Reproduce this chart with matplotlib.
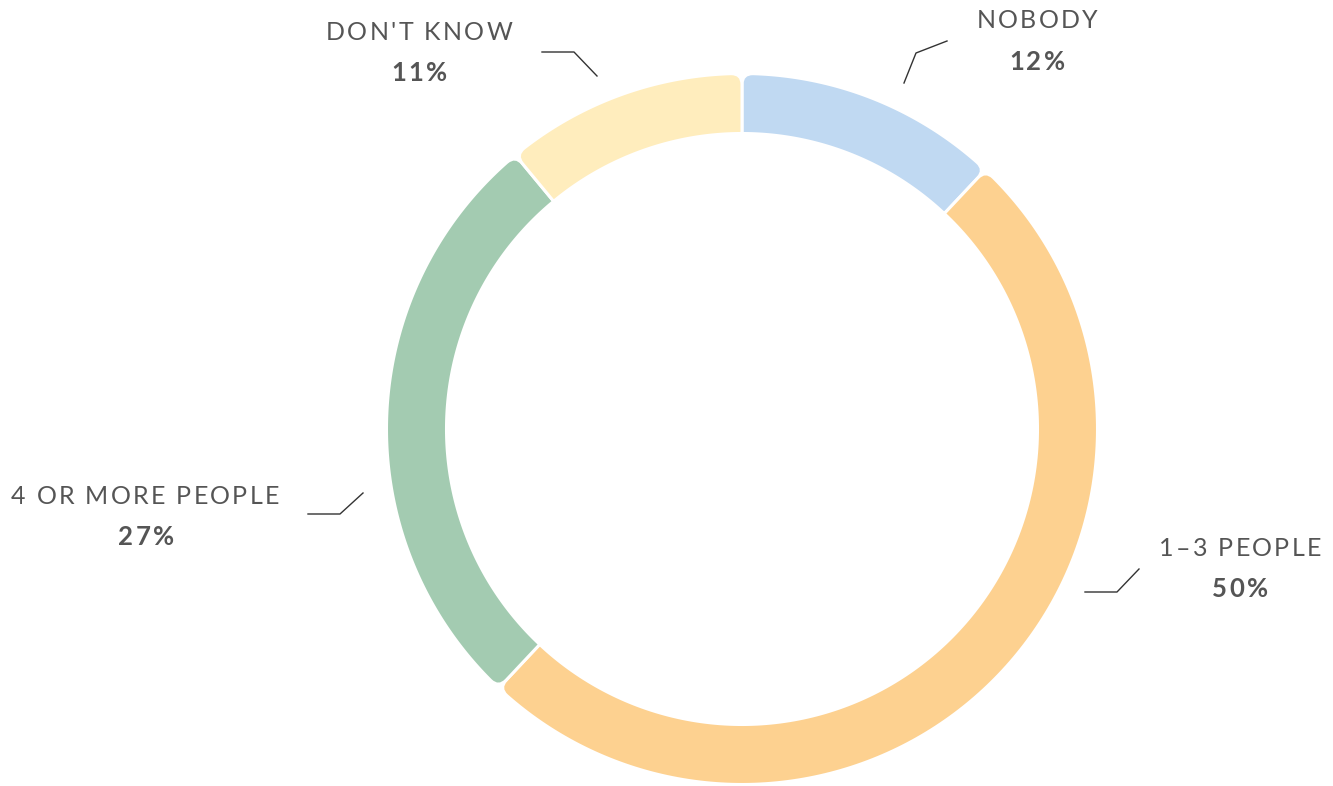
import numpy as np
import matplotlib
matplotlib.use("Agg")
import matplotlib.pyplot as plt
from matplotlib.path import Path
from matplotlib.patches import PathPatch
from matplotlib.font_manager import FontProperties

# ---- data ----
categories = ["NOBODY", "1–3 PEOPLE", "4 OR MORE PEOPLE", "DON'T KNOW"]
values = [12, 50, 27, 11]
colors = ["#C0D9F2", "#FDD190", "#A3CBB1", "#FFEDBD"]

# ---- layout (pixel coordinates) ----
W, H = 1333, 786
cx, cy = 742, 429
R_out, R_in = 355.5, 295.5
corner = 11
label_layout = {
    "NOBODY": dict(line=[(904, 83), (916, 53), (947, 41)], name=(1037, 21), pct=(1037, 62)),
    "1–3 PEOPLE": dict(line=[(1139, 569), (1117, 592), (1085, 592)], name=(1240, 549), pct=(1240, 589)),
    "4 OR MORE PEOPLE": dict(line=[(363, 493), (340, 514), (308, 514)], name=(145, 497), pct=(146, 537)),
    "DON'T KNOW": dict(line=[(597, 76), (574, 52), (542, 52)], name=(419, 33), pct=(419, 73)),
}

fig = plt.figure(figsize=(W / 100, H / 100), dpi=100)
ax = fig.add_axes([0, 0, 1, 1])
ax.set_xlim(0, W)
ax.set_ylim(H, 0)
ax.set_aspect("equal")
ax.axis("off")
renderer = fig.canvas.get_renderer()


def P(r, deg):
    t = np.deg2rad(deg)
    return (cx + r * np.cos(t), cy - r * np.sin(t))


def segment(s, e):
    d = np.rad2deg(corner / R_out)
    verts, codes = [], []
    outer = np.linspace(s - d, e + d, 200)
    verts.append(P(R_out, outer[0])); codes.append(Path.MOVETO)
    for a in outer[1:]:
        verts.append(P(R_out, a)); codes.append(Path.LINETO)
    verts += [P(R_out, e), P(R_out - corner, e)]; codes += [Path.CURVE3, Path.CURVE3]
    for a in np.linspace(e, s, 200):
        verts.append(P(R_in, a)); codes.append(Path.LINETO)
    verts.append(P(R_out - corner, s)); codes.append(Path.LINETO)
    verts += [P(R_out, s), P(R_out, s - d)]; codes += [Path.CURVE3, Path.CURVE3]
    verts.append(verts[0]); codes.append(Path.CLOSEPOLY)
    return Path(verts, codes)


total = sum(values)
start = 90.0
for cat, v, c in zip(categories, values, colors):
    end = start - 360.0 * v / total
    ax.add_patch(PathPatch(segment(start, end), facecolor=c, edgecolor="white", lw=2.2, zorder=2))
    start = end


def width_px(s, fp):
    if not s:
        return 0.0
    w_bar, _, _ = renderer.get_text_width_height_descent("I", fp, ismath=False)
    w, _, _ = renderer.get_text_width_height_descent(s + "I", fp, ismath=False)
    return w - w_bar


def tracked_text(x, y, s, fp, color, tracking):
    widths = [width_px(s[:i], fp) for i in range(len(s) + 1)]
    total_w = widths[-1] + tracking * (len(s) - 1)
    x0 = x - total_w / 2
    for i, ch in enumerate(s):
        if ch == " ":
            continue
        ax.text(x0 + widths[i] + tracking * i, y, ch, ha="left", va="center",
                fontproperties=fp, color=color, zorder=4)


name_fp = FontProperties(family=["Lato", "DejaVu Sans"], size=18, weight="normal")
pct_fp = FontProperties(family=["Lato", "DejaVu Sans"], size=18.5, weight="bold")
for cat, v in zip(categories, values):
    lay = label_layout[cat]
    xs, ys = zip(*lay["line"])
    ax.plot(xs, ys, color="#333333", lw=1.0, zorder=3)
    tracked_text(*lay["name"], cat, name_fp, "#555555", 2.3)
    tracked_text(*lay["pct"], f"{v}%", pct_fp, "#555555", 2.6)

fig.savefig("out.png", dpi=100, facecolor="white")
